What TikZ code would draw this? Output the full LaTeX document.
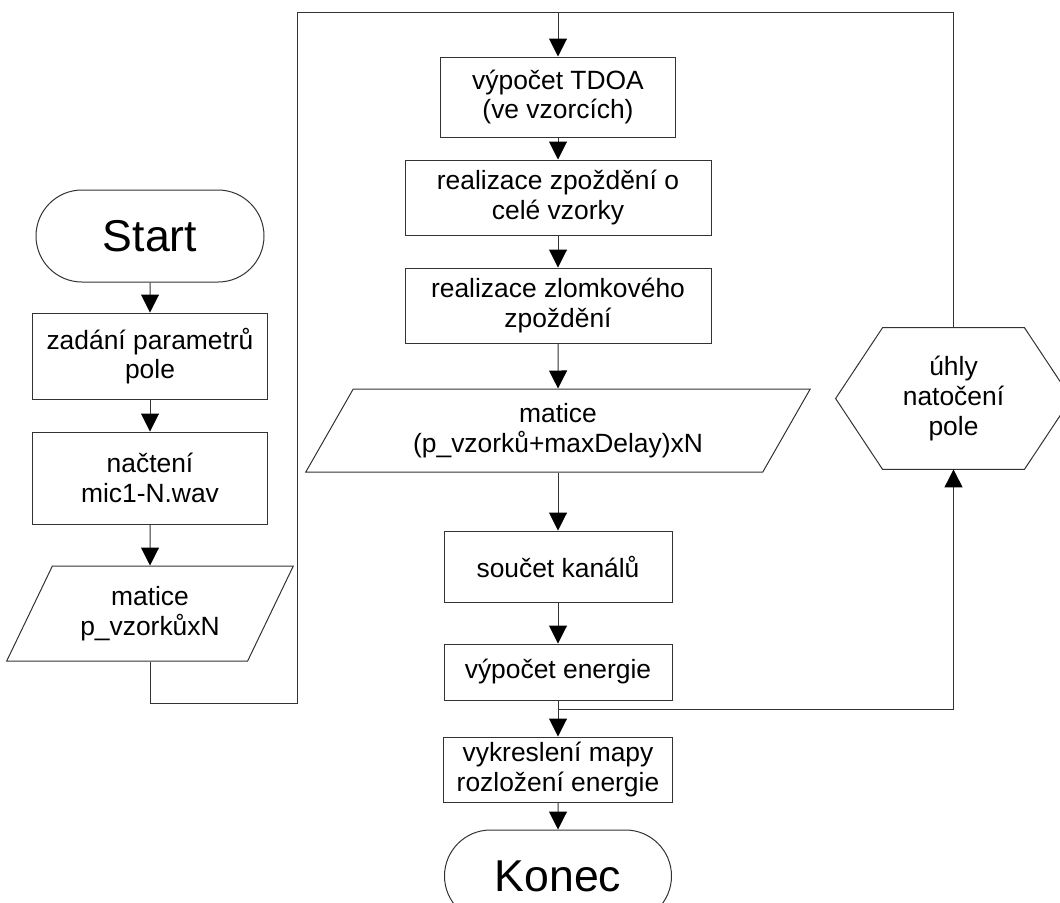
\documentclass[tikz,border=0pt]{standalone}
\usepackage{fontspec}
\setmainfont{Liberation Sans}
\usetikzlibrary{shapes.geometric,shapes.misc,arrows.meta}

\begin{document}
\begin{tikzpicture}[x=0.5pt,y=-0.5pt,
  every node/.style={font=\fontsize{13.2}{14.8}\selectfont, align=center, inner sep=2pt},
  blok/.style={rectangle, draw=black!80, line width=0.5pt},
  krajni/.style={rounded rectangle, draw=black!80, line width=0.5pt, minimum width=118pt, minimum height=46pt, font=\fontsize{22.3}{24}\selectfont},
  data/.style={trapezium, trapezium left angle=61, trapezium right angle=119, trapezium stretches=true, draw=black!80, line width=0.5pt},
  cara/.style={draw=black!80, line width=0.5pt},
  sipka/.style={cara, -{Triangle[width=9pt,length=9pt,color=black]}}]
  \useasboundingbox (0,0) rectangle (1060,902);
  % levy sloupec
  \node[krajni] (start) at (150,236) {Start};
  \node[blok, minimum width=117.5pt, minimum height=43pt] (zadani) at (150,356) {zadání parametrů\\pole};
  \node[blok, minimum width=117.5pt, minimum height=46pt] (nacteni) at (150,478) {načtení\\mic1-N.wav};
  \node[data, minimum width=143.5pt, minimum height=47.5pt] (matice1) at (150,613.5) {matice\\p\_vzorkůxN};
  % prostredni sloupec
  \node[blok, minimum width=117.5pt, minimum height=40pt] (tdoa) at (558,97) {výpočet TDOA\\(ve vzorcích)};
  \node[blok, minimum width=153pt, minimum height=37.5pt] (cele) at (558,197.5) {realizace zpoždění o\\celé vzorky};
  \node[blok, minimum width=153pt, minimum height=37.5pt] (zlomek) at (558,305.5) {realizace zlomkového\\zpoždění};
  \node[data, minimum width=252.5pt, minimum height=41.5pt] (matice2) at (558,430.5) {matice\\(p\_vzorků+maxDelay)xN};
  \node[blok, minimum width=114pt, minimum height=35.5pt] (soucet) at (558,566.5) {součet kanálů};
  \node[blok, minimum width=114pt, minimum height=28pt] (energie) at (558,672) {výpočet energie};
  \node[blok, minimum width=114.5pt, minimum height=32.5pt] (mapa) at (558,769.5) {vykreslení mapy\\rozložení energie};
  \node[krajni, minimum width=117.5pt] (konec) at (558,876) {Konec};
  % sestiuhelnik vpravo
  \node[minimum width=70.5pt, minimum height=70.5pt] (uhly) at (953.5,398.5) {úhly\\natočení\\pole};
  \draw[cara] (uhly.north west) -- (uhly.north east) -- ([xshift=23.5pt]uhly.east)
    -- (uhly.south east) -- (uhly.south west) -- ([xshift=-23.5pt]uhly.west) -- cycle;
  \coordinate (dole) at (297,703);
  \coordinate (nahore) at (297,12);
  \coordinate (vetev) at (558,709);
  % spojnice
  \draw[sipka] (start) -- (zadani);
  \draw[sipka] (zadani) -- (nacteni);
  \draw[sipka] (nacteni) -- (matice1);
  \draw[sipka] (matice1.south) |- (dole) -- (nahore) -| (tdoa.north);
  \draw[sipka] (tdoa) -- (cele);
  \draw[sipka] (cele) -- (zlomek);
  \draw[sipka] (zlomek) -- (matice2);
  \draw[sipka] (matice2) -- (soucet);
  \draw[sipka] (soucet) -- (energie);
  \draw[sipka] (energie) -- (mapa);
  \draw[sipka] (mapa) -- (konec);
  \draw[sipka] (vetev) -| (uhly.south);
  \draw[cara] (uhly.north) |- (tdoa.north |- nahore);
\end{tikzpicture}
\end{document}
